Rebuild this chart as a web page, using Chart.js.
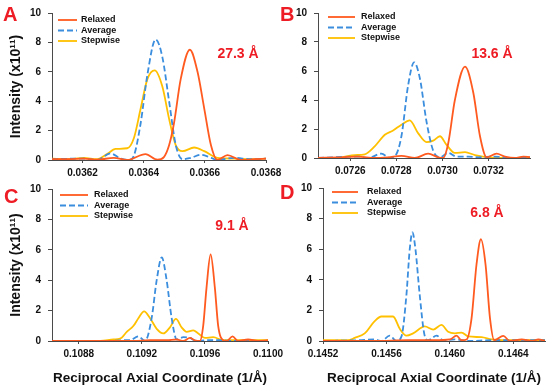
<!doctype html>
<html lang="en">
	<head>
		<meta charset="UTF-8" />
		<title>Reciprocal axial intensity profiles</title>
		<script src="https://cdn.jsdelivr.net/npm/chart.js"></script>
		<style>
			body {
				margin: 0;
				background: #fff;
			}
			#wrap {
				position: relative;
				width: 550px;
				height: 390px;
				overflow: hidden;
			}
			canvas {
				position: absolute;
			}
		</style>
	</head>
	<body>
		<div id="wrap">
			<canvas id="chartA" width="290" height="190" style="left: 0; top: 0"></canvas>
			<canvas id="chartB" width="280" height="190" style="left: 270px; top: 0"></canvas>
			<canvas id="chartC" width="290" height="215" style="left: 0; top: 175px"></canvas>
			<canvas id="chartD" width="280" height="215" style="left: 270px; top: 175px"></canvas>
		</div>

		<script>
			const seriesNames = ['Relaxed', 'Average', 'Stepwise']
			const yTicks = [0, 2, 4, 6, 8, 10]

			// A - 27.3 Å
			const aTicks = [0.0362, 0.0364, 0.0366, 0.0368]
			const aRelaxedX = [0.0361, 0.036149, 0.036204, 0.036248, 0.036302, 0.036346, 0.036406, 0.036445, 0.036466, 0.036483, 0.036499, 0.036521, 0.036551, 0.036576, 0.036598, 0.03662, 0.036641, 0.036674, 0.036718, 0.036762, 0.0368]
			const aRelaxedY = [0.05, 0.05, 0.1, 0.02, 0.15, 0.0, 0.4, 0.02, 0.2, 1.0, 2.5, 5.5, 7.5, 6.0, 3.5, 1.0, 0.0, 0.33, 0.0, 0.05, 0.1]
			const aAverageX = [0.0361, 0.036204, 0.036248, 0.036291, 0.036324, 0.036352, 0.036368, 0.03639, 0.036412, 0.036439, 0.036461, 0.036483, 0.036505, 0.036527, 0.036554, 0.036587, 0.03662, 0.036641, 0.036696, 0.036751, 0.0368]
			const aAverageY = [0.05, 0.1, 0.0, 0.45, 0.1, 0.0, 0.3, 2.5, 5.8, 8.2, 7.0, 4.0, 1.0, 0.05, 0.15, 0.35, 0.15, 0.0, 0.15, 0.05, 0.1]
			const aStepwiseX = [0.0361, 0.036149, 0.036204, 0.036248, 0.03628, 0.036308, 0.036346, 0.036368, 0.03639, 0.036412, 0.036436, 0.036461, 0.036483, 0.036505, 0.036527, 0.036565, 0.036598, 0.036641, 0.036696, 0.036751, 0.0368]
			const aStepwiseY = [0.1, 0.05, 0.15, 0.05, 0.4, 0.75, 0.8, 1.5, 3.5, 5.5, 6.1, 5.0, 2.8, 1.0, 0.6, 0.85, 0.6, 0.15, 0.1, 0.05, 0.1]

			// B - 13.6 Å
			const bTicks = [0.0726, 0.0728, 0.073, 0.0732]
			const bRelaxedX = [0.07246, 0.072561, 0.072634, 0.072706, 0.072764, 0.072822, 0.07288, 0.072938, 0.072982, 0.073003, 0.073025, 0.073054, 0.073098, 0.073134, 0.073163, 0.073192, 0.073235, 0.073271, 0.073315, 0.073351, 0.07338]
			const bRelaxedY = [0.0, 0.05, 0.1, 0.0, 0.05, 0.15, 0.0, 0.3, 0.05, 0.0, 1.0, 4.0, 6.3, 4.5, 1.5, 0.05, 0.3, 0.1, 0.0, 0.1, 0.05]
			const bAverageX = [0.07246, 0.072634, 0.072677, 0.072735, 0.072772, 0.072793, 0.072822, 0.072851, 0.072877, 0.072902, 0.072931, 0.07296, 0.072989, 0.073025, 0.073061, 0.073112, 0.073156, 0.073228, 0.073286, 0.07338]
			const bAverageY = [0.0, 0.1, 0.0, 0.3, 0.0, 0.1, 1.5, 5.0, 6.6, 5.5, 2.5, 0.5, 0.05, 0.35, 0.1, 0.1, 0.05, 0.1, 0.0, 0.05]
			const bStepwiseX = [0.07246, 0.072561, 0.072619, 0.072663, 0.072706, 0.07275, 0.072786, 0.072822, 0.072858, 0.072895, 0.072931, 0.07296, 0.072989, 0.073018, 0.073054, 0.073098, 0.073141, 0.073199, 0.073271, 0.07338]
			const bStepwiseY = [0.0, 0.05, 0.2, 0.25, 0.8, 1.6, 1.9, 2.3, 2.6, 1.7, 1.1, 1.2, 1.5, 0.9, 0.35, 0.4, 0.2, 0.05, 0.0, 0.05]

			// C - 9.1 Å
			const cTicks = [0.1088, 0.1092, 0.1096, 0.11]
			const cRelaxedX = [0.10863, 0.108936, 0.109147, 0.109252, 0.109357, 0.109421, 0.109463, 0.109505, 0.109536, 0.109568, 0.109589, 0.10961, 0.109636, 0.109663, 0.109684, 0.109716, 0.109737, 0.109775, 0.109811, 0.109874, 0.109937, 0.11]
			const cRelaxedY = [0.0, 0.0, 0.0, 0.05, 0.05, 0.1, 0.0, 0.2, 0.05, 0.0, 1.0, 3.5, 5.7, 3.5, 1.0, 0.05, 0.0, 0.3, 0.0, 0.1, 0.0, 0.05]
			const cAverageX = [0.10863, 0.108999, 0.109083, 0.109125, 0.109178, 0.10922, 0.109262, 0.109294, 0.109326, 0.109357, 0.109389, 0.109421, 0.109463, 0.109505, 0.109547, 0.10961, 0.109695, 0.109779, 0.11]
			const cAverageY = [0.0, 0.0, 0.05, 0.05, 0.3, 0.0, 1.5, 4.0, 5.5, 4.0, 1.5, 0.1, 0.25, 0.2, 0.0, 0.05, 0.05, 0.0, 0.0]
			const cStepwiseX = [0.10863, 0.108936, 0.10902, 0.109062, 0.109104, 0.109147, 0.109178, 0.109214, 0.109252, 0.109294, 0.109336, 0.109378, 0.109416, 0.109452, 0.109484, 0.109526, 0.109558, 0.1096, 0.109652, 0.109716, 0.109779, 0.11]
			const cStepwiseY = [0.0, 0.0, 0.1, 0.15, 0.6, 1.0, 1.5, 1.95, 1.5, 0.8, 0.5, 0.9, 1.45, 0.9, 0.6, 0.7, 0.5, 0.2, 0.25, 0.05, 0.05, 0.05]

			// D - 6.8 Å
			const dTicks = [0.1452, 0.1456, 0.146, 0.1464]
			const dRelaxedX = [0.1452, 0.145526, 0.145737, 0.145905, 0.146, 0.146042, 0.146074, 0.146105, 0.146137, 0.146168, 0.146196, 0.146225, 0.146253, 0.14628, 0.146337, 0.146379, 0.146453, 0.146516, 0.146558, 0.1466]
			const dRelaxedY = [0.0, 0.0, 0.05, 0.05, 0.1, 0.35, 0.05, 0.1, 1.5, 5.0, 6.65, 5.0, 1.5, 0.05, 0.33, 0.0, 0.1, 0.0, 0.1, 0.0]
			const dAverageX = [0.1452, 0.145421, 0.145526, 0.145568, 0.145621, 0.145663, 0.145695, 0.145726, 0.145747, 0.145764, 0.145783, 0.14581, 0.145838, 0.145863, 0.145916, 0.145958, 0.146032, 0.146116, 0.146263, 0.1466]
			const dAverageY = [0.0, 0.05, 0.1, 0.0, 0.35, 0.0, 0.3, 3.0, 6.0, 7.1, 6.0, 3.0, 0.5, 0.05, 0.35, 0.05, 0.1, 0.0, 0.05, 0.05]
			const dStepwiseX = [0.1452, 0.145358, 0.1454, 0.145463, 0.145526, 0.145568, 0.145642, 0.145684, 0.145726, 0.145768, 0.145842, 0.145895, 0.145947, 0.145989, 0.146032, 0.146074, 0.146116, 0.1462, 0.146263, 0.146368, 0.1466]
			const dStepwiseY = [0.05, 0.05, 0.2, 0.5, 1.3, 1.6, 1.6, 0.8, 0.35, 0.5, 0.95, 0.75, 1.05, 0.6, 0.5, 0.55, 0.3, 0.25, 0.1, 0.05, 0.05]

			const seriesColors = ['#ff5a1f', '#3b8ede', '#ffc000']
			const seriesDash = [[], [6, 3], []]
			const fontFamily = 'Arial, "Liberation Sans", sans-serif'
			const axisColor = '#4a4a4a'
			const labelRed = '#ee1c24'

			// letras, anotações e legenda dentro do painel
			const panelText = {
				id: 'panelText',
				afterDraw(chart, args, o) {
					const ctx = chart.ctx
					ctx.save()
					ctx.fillStyle = labelRed
					ctx.textAlign = 'left'
					ctx.textBaseline = 'alphabetic'
					ctx.font = `bold 20px ${fontFamily}`
					ctx.fillText(o.letter, o.letterX, o.letterY)
					ctx.font = `bold 14px ${fontFamily}`
					ctx.textAlign = 'center'
					ctx.textBaseline = 'middle'
					ctx.fillText(o.note, o.noteX, o.noteY)

					ctx.textAlign = 'left'
					ctx.font = `bold 9px ${fontFamily}`
					seriesNames.forEach((name, i) => {
						const y = o.legendY + i * 10.5
						ctx.strokeStyle = seriesColors[i]
						ctx.lineWidth = 1.8
						ctx.setLineDash(seriesDash[i])
						ctx.beginPath()
						ctx.moveTo(o.legendX, y)
						ctx.lineTo(o.legendX + o.legendLen, y)
						ctx.stroke()
						ctx.setLineDash([])
						ctx.fillStyle = '#111'
						ctx.fillText(name, o.textX, y)
					})
					ctx.restore()
				}
			}

			function makePanel(id, p) {
				const datasets = seriesNames.map((name, i) => ({
					label: name,
					data: p.xs[i].map((x, k) => ({ x, y: p.ys[i][k] })),
					borderColor: seriesColors[i],
					borderWidth: 1.8,
					borderDash: seriesDash[i],
					pointRadius: 0,
					fill: false,
					cubicInterpolationMode: 'monotone'
				}))

				return new Chart(document.getElementById(id), {
					type: 'line',
					data: { datasets },
					plugins: [panelText],
					options: {
						responsive: false,
						animation: false,
						layout: { padding: { top: p.padTop, right: p.padRight, left: 0, bottom: 0 } },
						plugins: {
							legend: { display: false },
							tooltip: { enabled: false },
							panelText: p.text
						},
						scales: {
							x: {
								type: 'linear',
								min: p.min,
								max: p.max,
								afterBuildTicks: (s) => {
									s.ticks = p.ticks.map((v) => ({ value: v }))
								},
								afterFit: (s) => {
									s.height = p.xHeight
								},
								ticks: {
									callback: (v) => v.toFixed(4),
									font: { family: fontFamily, size: 10, weight: 'bold' },
									color: '#111',
									padding: 4,
									maxRotation: 0,
									autoSkip: false
								},
								grid: { drawOnChartArea: false, tickLength: 3, color: axisColor },
								border: { color: axisColor, width: 1 },
								title: {
									display: p.xTitle,
									text: 'Reciprocal Axial Coordinate (1/Å)',
									font: { family: fontFamily, size: 13.5, weight: 'bold' },
									color: '#111',
									padding: { top: 4, bottom: 4 }
								}
							},
							y: {
								min: 0,
								max: 10,
								afterBuildTicks: (s) => {
									s.ticks = yTicks.map((v) => ({ value: v }))
								},
								afterFit: (s) => {
									s.width = p.yWidth
								},
								ticks: {
									font: { family: fontFamily, size: 10, weight: 'bold' },
									color: '#111',
									padding: 7
								},
								grid: { drawOnChartArea: false, tickLength: 4, color: axisColor },
								border: { color: axisColor, width: 1 },
								title: {
									display: p.yTitle,
									text: 'Intensity (x10¹¹)',
									font: { family: fontFamily, size: 14, weight: 'bold' },
									color: '#111',
									padding: { top: 8, bottom: 4 }
								}
							}
						}
					}
				})
			}

			makePanel('chartA', {
				xs: [aRelaxedX, aAverageX, aStepwiseX],
				ys: [aRelaxedY, aAverageY, aStepwiseY],
				ticks: aTicks, min: 0.0361, max: 0.0368,
				padTop: 12, padRight: 24, xHeight: 30, yWidth: 52,
				xTitle: false, yTitle: true,
				text: { letter: 'A', letterX: 3, letterY: 21, note: '27.3 Å', noteX: 238, noteY: 54, legendX: 58, legendLen: 19, textX: 81, legendY: 20 }
			})
			makePanel('chartB', {
				xs: [bRelaxedX, bAverageX, bStepwiseX],
				ys: [bRelaxedY, bAverageY, bStepwiseY],
				ticks: bTicks, min: 0.07246, max: 0.07338,
				padTop: 12, padRight: 20, xHeight: 32, yWidth: 48,
				xTitle: false, yTitle: false,
				text: { letter: 'B', letterX: 10, letterY: 21, note: '13.6 Å', noteX: 222, noteY: 54, legendX: 58, legendLen: 27, textX: 91, legendY: 17 }
			})
			makePanel('chartC', {
				xs: [cRelaxedX, cAverageX, cStepwiseX],
				ys: [cRelaxedY, cAverageY, cStepwiseY],
				ticks: cTicks, min: 0.10863, max: 0.11,
				padTop: 14, padRight: 22, xHeight: 49, yWidth: 52,
				xTitle: true, yTitle: true,
				text: { letter: 'C', letterX: 4, letterY: 28, note: '9.1 Å', noteX: 232, noteY: 51, legendX: 60, legendLen: 28, textX: 94, legendY: 20 }
			})
			makePanel('chartD', {
				xs: [dRelaxedX, dAverageX, dStepwiseX],
				ys: [dRelaxedY, dAverageY, dStepwiseY],
				ticks: dTicks, min: 0.1452, max: 0.1466,
				padTop: 12, padRight: 5, xHeight: 49, yWidth: 53,
				xTitle: true, yTitle: false,
				text: { letter: 'D', letterX: 10, letterY: 24, note: '6.8 Å', noteX: 217, noteY: 38, legendX: 62, legendLen: 26, textX: 97, legendY: 17 }
			})
		</script>
	</body>
</html>
